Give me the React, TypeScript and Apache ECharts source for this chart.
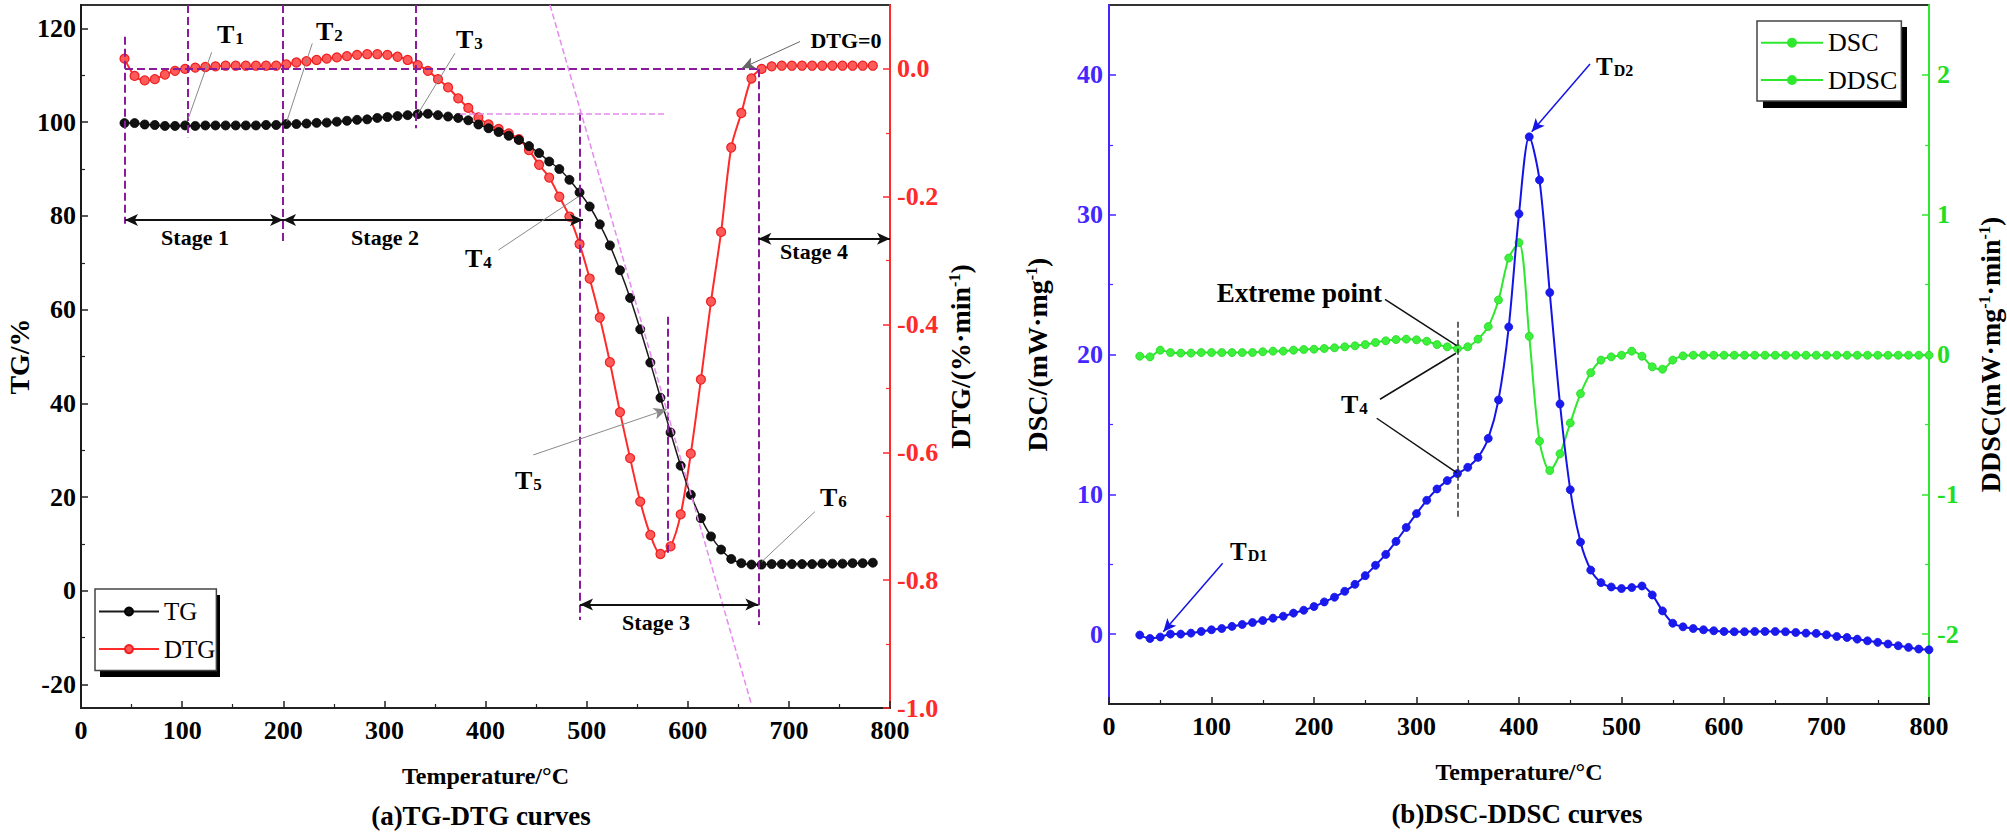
import React, { useEffect, useRef } from 'react';
import * as echarts from 'echarts';

const FONT = '"Liberation Serif", "Times New Roman", Times, serif';

// ---------- data ----------
const tgTemp = [43, 53, 63, 73, 83, 93, 103, 113, 123, 133, 143, 153, 163, 173, 183, 193, 203, 213, 223, 233,
  243, 253, 263, 273, 283, 293, 303, 313, 323, 333, 343, 353, 363, 373, 383, 393, 403, 413, 423, 433,
  443, 453, 463, 473, 483, 493, 503, 513, 523, 533, 543, 553, 563, 573, 583, 593, 603, 613, 623, 633,
  643, 653, 663, 673, 683, 693, 703, 713, 723, 733, 743, 753, 763, 773, 783];

const tgValues = [99.8, 99.8, 99.5, 99.4, 99.2, 99.2, 99.3, 99.2, 99.3, 99.3,
  99.3, 99.3, 99.3, 99.3, 99.4, 99.4, 99.6, 99.6, 99.7, 99.85,
  99.9, 100.1, 100.3, 100.5, 100.6, 100.9, 101.1, 101.3, 101.5, 101.7,
  101.8, 101.5, 101.2, 100.9, 100.4, 99.5, 98.7, 97.9, 97.1, 96.2,
  94.9, 93.4, 91.6, 90.0, 87.7, 85.0, 82.0, 78.2, 73.7, 68.4,
  62.5, 55.8, 48.7, 41.2, 33.8, 26.7, 20.5, 15.5, 11.6, 8.8,
  6.8, 5.9, 5.6, 5.6, 5.7, 5.7, 5.7, 5.7, 5.7, 5.8,
  5.8, 5.8, 5.9, 5.9, 6.0];

const dtgValues = [0.016, -0.011, -0.018, -0.016, -0.009, -0.003, 0.000, 0.002, 0.003, 0.004,
  0.005, 0.005, 0.005, 0.005, 0.005, 0.005, 0.007, 0.010, 0.012, 0.014,
  0.016, 0.018, 0.020, 0.022, 0.023, 0.023, 0.022, 0.019, 0.014, 0.006,
  -0.003, -0.016, -0.029, -0.046, -0.061, -0.076, -0.087, -0.094, -0.101, -0.110,
  -0.127, -0.150, -0.170, -0.200, -0.231, -0.274, -0.328, -0.389, -0.459, -0.537,
  -0.609, -0.677, -0.729, -0.759, -0.747, -0.697, -0.602, -0.486, -0.364, -0.255,
  -0.123, -0.069, -0.015, 0.000, 0.004, 0.005, 0.005, 0.005, 0.005, 0.005,
  0.005, 0.005, 0.005, 0.005, 0.005];

const dscTemp = [30, 40, 50, 60, 70, 80, 90, 100, 110, 120, 130, 140, 150, 160, 170, 180, 190, 200, 210, 220,
  230, 240, 250, 260, 270, 280, 290, 300, 310, 320, 330, 340, 350, 360, 370, 380, 390, 400, 410, 420,
  430, 440, 450, 460, 470, 480, 490, 500, 510, 520, 530, 540, 550, 560, 570, 580, 590, 600, 610, 620,
  630, 640, 650, 660, 670, 680, 690, 700, 710, 720, 730, 740, 750, 760, 770, 780, 790, 800];

const dscValues = [-0.07, -0.31, -0.21, 0.00, 0.00, 0.07, 0.19, 0.31, 0.40, 0.55,
  0.69, 0.83, 0.97, 1.14, 1.28, 1.50, 1.71, 1.97, 2.30, 2.64,
  3.06, 3.56, 4.18, 4.92, 5.70, 6.63, 7.63, 8.62, 9.57, 10.38,
  10.98, 11.48, 11.93, 12.64, 14.00, 16.75, 21.97, 30.06, 35.57, 32.48,
  24.43, 16.46, 10.33, 6.58, 4.58, 3.68, 3.37, 3.26, 3.33, 3.44,
  2.80, 1.66, 0.78, 0.52, 0.40, 0.31, 0.24, 0.19, 0.17, 0.17,
  0.19, 0.19, 0.19, 0.17, 0.12, 0.07, 0.05, -0.05, -0.17, -0.24,
  -0.36, -0.48, -0.59, -0.71, -0.83, -0.95, -1.07, -1.12];

const ddscValues = [-0.012, -0.017, 0.031, 0.014, 0.010, 0.010, 0.014, 0.014, 0.014, 0.014,
  0.014, 0.014, 0.020, 0.024, 0.024, 0.031, 0.036, 0.038, 0.043, 0.048,
  0.055, 0.062, 0.071, 0.086, 0.098, 0.107, 0.110, 0.105, 0.095, 0.071,
  0.055, 0.043, 0.055, 0.110, 0.200, 0.390, 0.690, 0.800, 0.130, -0.620,
  -0.830, -0.710, -0.490, -0.280, -0.130, -0.040, -0.017, -0.005, 0.024, -0.012,
  -0.088, -0.105, -0.040, -0.010, -0.005, -0.005, -0.005, -0.005, -0.005, -0.005,
  -0.005, -0.005, -0.005, -0.005, -0.005, -0.005, -0.005, -0.005, -0.005, -0.005,
  -0.005, -0.005, -0.005, -0.005, -0.005, -0.005, -0.005, -0.005];

const tempTicks = { min: 0, max: 800, interval: 100 };
const tgTicks = { min: -20, max: 120, interval: 20 };
const dtgTicks = { min: -1, max: 0, interval: 0.2 };
const dscTicks = { min: 0, max: 40, interval: 10 };
const ddscTicks = { min: -2, max: 2, interval: 1 };

// ---------- styles ----------
const BLACK = '#1a1a1a';
const RED = '#ff2a2a';
const BLUE = '#1414e6';
const BLUE_AXIS = '#4426ff';
const GREEN = '#2ee82e';
const PURPLE = '#8a1c9c';
const PINK = '#e68af0';

const labelFont = (color: string) => ({
  color, fontFamily: FONT, fontSize: 26, fontWeight: 'bold',
});

const nameRich = {
  a: { fontFamily: FONT, fontSize: 28, fontWeight: 'bold', color: '#000' },
  s: { fontFamily: FONT, fontSize: 16, fontWeight: 'bold', color: '#000', verticalAlign: 'top' },
};

const tickAxis = (gridIndex: number, ticks: any, color: string, extra: any = {}) => ({
  type: 'value', gridIndex, ...ticks,
  axisLine: { show: false, onZero: false },
  axisTick: { show: true, inside: true, length: 7, lineStyle: { color, width: 1.5 } },
  minorTick: { show: true, splitNumber: 2, length: 4, lineStyle: { color, width: 1.2 } },
  axisLabel: { ...labelFont(color), margin: 6 },
  splitLine: { show: false },
  minorSplitLine: { show: false },
  ...extra,
});

const dataAxis = (gridIndex: number, min: number, max: number, color: string, extra: any = {}) => ({
  type: 'value', gridIndex, min, max,
  axisLine: { show: true, onZero: false, lineStyle: { color, width: 2 } },
  axisTick: { show: false },
  axisLabel: { show: false },
  splitLine: { show: false },
  nameLocation: 'middle', nameRotate: 90, nameMoveOverlap: false,
  nameTextStyle: { rich: nameRich },
  ...extra,
});

const xAxisVisible = (gridIndex: number) => ({
  type: 'value', gridIndex, ...tempTicks,
  axisLine: { show: true, onZero: false, lineStyle: { color: '#222', width: 2 } },
  axisTick: { show: true, inside: true, length: 7, lineStyle: { color: '#222', width: 1.5 } },
  minorTick: { show: true, splitNumber: 2, length: 4, lineStyle: { color: '#222', width: 1.2 } },
  axisLabel: { ...labelFont('#000'), margin: 9 },
  splitLine: { show: false },
  name: 'Temperature/°C', nameLocation: 'middle', nameGap: 56, nameMoveOverlap: false,
  nameTextStyle: { fontFamily: FONT, fontSize: 24, fontWeight: 'bold', color: '#000' },
});
const xAxisHidden = (gridIndex: number) => ({ type: 'value', gridIndex, ...tempTicks, show: false });

type P = [number, number];
const seg = (a: P, b: P, ls: any, s1 = 'none', s2 = 'none') => [
  { coord: a, symbol: s1, lineStyle: ls },
  { coord: b, symbol: s2 },
];

const purple = { color: PURPLE, type: 'dashed', width: 2 };
const pink = { color: PINK, type: 'dashed', width: 1.5 };
const arrowLs = { color: '#111', type: 'solid', width: 2 };
const grayLs = { color: '#8a8a8a', type: 'solid', width: 1 };
const blackLs = { color: '#111', type: 'solid', width: 1.5 };
const blackDash = { color: '#333', type: 'dashed', width: 1.5 };
const blueLs = { color: BLUE, type: 'solid', width: 1.5 };

const tgMarks = [
  seg([43.5, 118.2], [43.5, 78.3], purple),
  seg([105.8, 125], [105.8, 96.8], purple),
  seg([199.8, 125], [199.8, 74.2], purple),
  seg([331.3, 125], [331.3, 98.7], purple),
  seg([493.5, 102.0], [493.5, -6.2], purple),
  seg([669.8, 111.3], [669.8, -7.3], purple),
  seg([579.8, 58.5], [579.8, 7.3], purple),
  seg([374.8, 101.9], [579.2, 101.9], pink),
  seg([463.8, 125], [663.2, -24.4], pink),
  seg([43.5, 79.1], [199.8, 79.1], arrowLs, 'arrow', 'arrow'),
  seg([199.8, 79.1], [496.4, 79.1], arrowLs, 'arrow', 'arrow'),
  seg([493.5, -2.9], [669.8, -2.9], arrowLs, 'arrow', 'arrow'),
  seg([669.8, 75.1], [800, 75.1], arrowLs, 'arrow', 'arrow'),
  seg([129.2, 114.9], [106.1, 100.8], grayLs),
  seg([228.7, 116.8], [203.4, 100.1], grayLs),
  seg([369.8, 114.7], [333.5, 101.9], grayLs),
  seg([412.7, 72.7], [491.8, 84.1], grayLs),
  seg([447.3, 29.0], [579.2, 38.7], grayLs, 'none', 'arrow'),
  seg([725.8, 16.9], [673.1, 6.2], grayLs),
  seg([711.0, 117.2], [653.4, 111.5], { color: '#666', type: 'solid', width: 1, curveness: -0.4 }, 'none', 'arrow'),
];

const dtgMarks = [seg([43.5, 0], [669.8, 0], purple)];

const dscMarks = [
  seg([340, 22.35], [340, 8.4], blackDash),
  seg([269.3, 23.95], [339.2, 20.63], blackLs),
  seg([264.4, 16.8], [338.5, 20.09], blackLs),
  seg([261.2, 15.44], [339.2, 11.55], blackLs),
  seg([469.3, 40.78], [412.4, 35.94], blueLs, 'none', 'arrow'),
  seg([110.9, 5.06], [53.0, 0.17], blueLs, 'none', 'arrow'),
];

const markLine = (data: any[]) => ({
  silent: true, symbol: ['none', 'none'], symbolSize: [9, 13],
  label: { show: false }, animation: false, emphasis: { disabled: true }, data,
});

const txt = (x: number, y: number, text: string, size: number, align = 'center', weight = 'bold') => ({
  type: 'text', x, y, z: 5, silent: true,
  style: {
    text, fill: '#000', fontFamily: FONT, fontSize: size, fontWeight: weight,
    align, verticalAlign: 'middle', textAlign: align, textVerticalAlign: 'middle',
  },
});

const subTxt = (x: number, y: number, main: string, sub: string, size = 26, subSize = 17) => ({
  type: 'text', x, y, z: 5, silent: true,
  style: {
    text: `{t|${main}}{s|${sub}}`,
    align: 'left', verticalAlign: 'middle', textAlign: 'left', textVerticalAlign: 'middle',
    rich: {
      t: { fontFamily: FONT, fontSize: size, fontWeight: 'bold', fill: '#000', color: '#000', verticalAlign: 'middle' },
      s: { fontFamily: FONT, fontSize: subSize, fontWeight: 'bold', fill: '#000', color: '#000', verticalAlign: 'bottom', padding: [0, 0, 0, 1] },
    },
  },
});

const shadowRect = (x: number, y: number, w: number, h: number) => ({
  type: 'rect', z: 0, silent: true, shape: { x, y, width: w, height: h }, style: { fill: '#000' },
});

const gridBase = { outerBoundsMode: 'none', containLabel: false };

const option: any = {
  animation: false,
  backgroundColor: '#ffffff',
  grid: [
    { ...gridBase, left: 81, top: 5, width: 809, height: 703, show: true, borderColor: '#333', borderWidth: 2, backgroundColor: 'transparent' },
    { ...gridBase, left: 81, top: 28.4, width: 809, height: 656.2 },
    { ...gridBase, left: 81, top: 68.9, width: 809, height: 639.1 },
    { ...gridBase, left: 1109, top: 5, width: 820, height: 699, show: true, borderColor: '#333', borderWidth: 2, backgroundColor: 'transparent' },
    { ...gridBase, left: 1109, top: 74.9, width: 820, height: 559.2 },
  ],
  xAxis: [xAxisVisible(0), xAxisHidden(1), xAxisHidden(2), xAxisVisible(3), xAxisHidden(4)],
  yAxis: [
    dataAxis(0, -25, 125, BLACK, { name: '{a|TG/%}', nameGap: 48 }),
    dataAxis(0, -1, 0.1, RED, { position: 'right', name: '{a|DTG/(%·min}{s|-1}{a|)}', nameGap: 56 }),
    tickAxis(1, tgTicks, '#000', { axisLabel: { ...labelFont('#000'), margin: 5 }, axisTick: { show: true, inside: true, length: 7, lineStyle: { color: '#222', width: 1.5 } }, minorTick: { show: true, splitNumber: 2, length: 4, lineStyle: { color: '#222', width: 1.2 } } }),
    tickAxis(2, dtgTicks, RED, { position: 'right', axisLabel: { ...labelFont(RED), margin: 7, formatter: (v: number) => v.toFixed(1) } }),
    dataAxis(3, -5, 45, BLUE_AXIS, { name: '{a|DSC/(mW·mg}{s|-1}{a|)}', nameGap: 58 }),
    dataAxis(3, -2.5, 2.5, GREEN, { position: 'right', name: '{a|DDSC(mW·mg}{s|-1}{a|·min}{s|-1}{a|)}', nameGap: 47 }),
    tickAxis(4, dscTicks, BLUE_AXIS, { axisLabel: { ...labelFont(BLUE_AXIS), margin: 6 } }),
    tickAxis(4, ddscTicks, GREEN, { position: 'right', axisLabel: { ...labelFont('#22dd22'), margin: 8 } }),
  ],
  legend: [
    {
      data: ['TG', 'DTG'], orient: 'vertical', left: 95, top: 589, z: 10, selectedMode: false,
      itemWidth: 60, itemHeight: 10, itemGap: 12.6, padding: [10, 1, 9, 3],
      backgroundColor: '#fff', borderColor: '#444', borderWidth: 1.5,
      textStyle: { fontFamily: FONT, fontSize: 25, color: '#000' },
    },
    {
      data: [
        { name: 'DSC', itemStyle: { color: GREEN, borderColor: GREEN }, lineStyle: { color: GREEN } },
        { name: 'DDSC', itemStyle: { color: GREEN, borderColor: GREEN }, lineStyle: { color: GREEN } },
      ],
      orient: 'vertical', left: 1757, top: 21, z: 10, selectedMode: false,
      itemWidth: 62, itemHeight: 10, itemGap: 11.3, padding: [8.7, 4, 8, 3],
      backgroundColor: '#fff', borderColor: '#444', borderWidth: 1.5,
      textStyle: { fontFamily: FONT, fontSize: 26, color: '#000' },
    },
  ],
  series: [
    {
      name: 'DTG', type: 'line', xAxisIndex: 0, yAxisIndex: 1, z: 2,
      data: tgTemp.map((t, i) => [t, dtgValues[i]]),
      smooth: 0.3, symbol: 'circle', symbolSize: 9,
      lineStyle: { color: RED, width: 2 },
      itemStyle: { color: '#ff5a5a', borderColor: '#ee2020', borderWidth: 1.2 },
      emphasis: { disabled: true },
      markLine: markLine(dtgMarks),
    },
    {
      name: 'TG', type: 'line', xAxisIndex: 0, yAxisIndex: 0, z: 3,
      data: tgTemp.map((t, i) => [t, tgValues[i]]),
      smooth: 0.3, symbol: 'circle', symbolSize: 9,
      lineStyle: { color: BLACK, width: 1.5 },
      itemStyle: { color: '#111111', borderColor: '#000', borderWidth: 0.8 },
      emphasis: { disabled: true },
      markLine: markLine(tgMarks),
    },
    {
      name: 'DSC', type: 'line', xAxisIndex: 3, yAxisIndex: 4, z: 3,
      data: dscTemp.map((t, i) => [t, dscValues[i]]),
      smooth: 0.3, symbol: 'circle', symbolSize: 8,
      lineStyle: { color: BLUE, width: 2 },
      itemStyle: { color: '#1a1aee', borderColor: BLUE, borderWidth: 0.8 },
      emphasis: { disabled: true },
      markLine: markLine(dscMarks),
    },
    {
      name: 'DDSC', type: 'line', xAxisIndex: 3, yAxisIndex: 5, z: 2,
      data: dscTemp.map((t, i) => [t, ddscValues[i]]),
      smooth: 0.3, symbol: 'circle', symbolSize: 8,
      lineStyle: { color: GREEN, width: 2 },
      itemStyle: { color: '#3cf03c', borderColor: '#22d822', borderWidth: 0.8 },
      emphasis: { disabled: true },
    },
  ],
  graphic: [
    shadowRect(100, 595, 120, 82),
    shadowRect(1763, 27, 144, 81),
    subTxt(217, 34, 'T', '1'),
    subTxt(316, 31, 'T', '2'),
    subTxt(456, 39, 'T', '3'),
    subTxt(465, 258, 'T', '4'),
    subTxt(515, 480, 'T', '5'),
    subTxt(820, 497, 'T', '6'),
    txt(846, 40, 'DTG=0', 22),
    txt(195, 237, 'Stage 1', 22),
    txt(385, 237, 'Stage 2', 22),
    txt(656, 622, 'Stage 3', 22),
    txt(814, 251, 'Stage 4', 22),
    txt(481, 816, '(a)TG-DTG curves', 27),
    txt(1382, 293, 'Extreme point', 27, 'right'),
    subTxt(1341, 404, 'T', '4'),
    subTxt(1596, 66, 'T', 'D2', 25, 16),
    subTxt(1230, 551, 'T', 'D1', 25, 16),
    txt(1517, 814, '(b)DSC-DDSC curves', 27),
  ],
};

export default function App() {
  const ref = useRef<HTMLDivElement>(null);
  useEffect(() => {
    document.body.style.margin = '0';
    const chart = echarts.init(ref.current as HTMLDivElement, null, { renderer: 'svg' });
    chart.setOption(option);
    return () => chart.dispose();
  }, []);
  return <div ref={ref} style={{ width: 2007, height: 839 }} />;
}
